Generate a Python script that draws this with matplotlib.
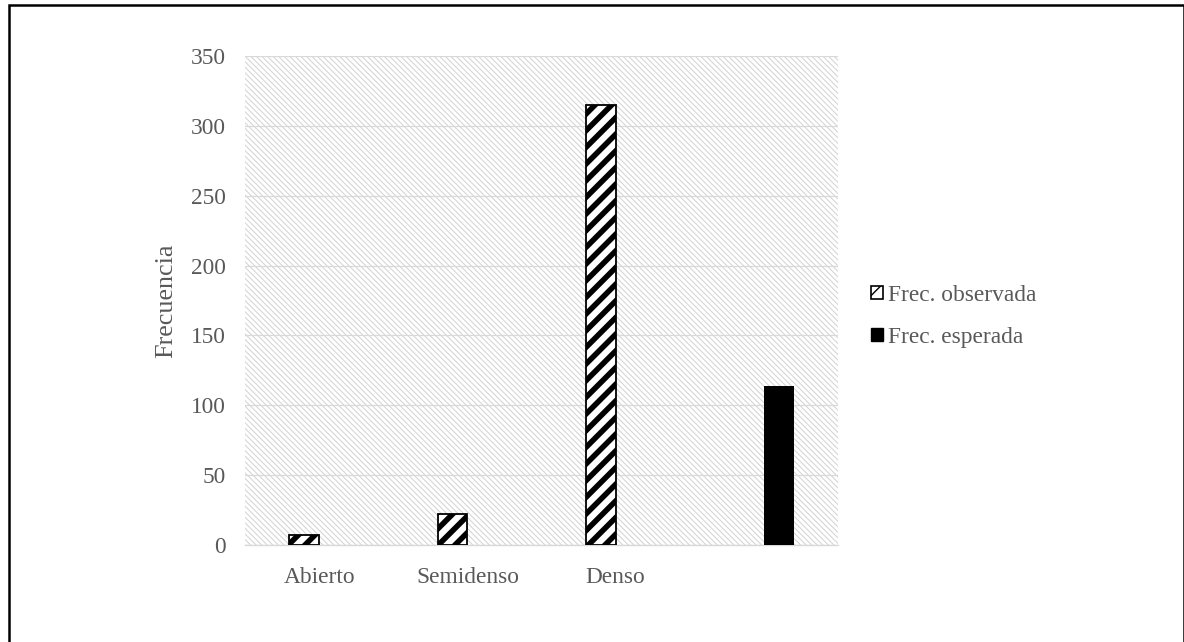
import numpy as np
import matplotlib
matplotlib.use("Agg")
import matplotlib.pyplot as plt
from matplotlib.patches import Rectangle, Patch

# Data
categories = ["Abierto", "Semidenso", "Denso", ""]
observed = [7, 22, 315, 0]
expected = [0, 0, 0, 114]
series_labels = ["Frec. observada", "Frec. esperada"]
y_ticks = [0, 50, 100, 150, 200, 250, 300, 350]

DPI = 100
plt.rcParams["font.family"] = ["Liberation Serif", "DejaVu Serif"]
text_color = "#595959"
grid_color = "#d9d9d9"

fig = plt.figure(figsize=(1184 / DPI, 642 / DPI), dpi=DPI)
ax = fig.add_axes([245 / 1184, 1 - 545 / 642, 593 / 1184, 489 / 642])


def hatch_lw(patch, lw):
    if hasattr(patch, "set_hatch_linewidth"):
        patch.set_hatch_linewidth(lw)


# hatched plot-area background
bg = Rectangle((0, 0), 1, 1, transform=ax.transAxes, facecolor="white",
               edgecolor="#d4d4d4", linewidth=0, hatch="\\" * 6, zorder=0.1)
hatch_lw(bg, 0.75)
ax.add_patch(bg)
ax.patch.set_visible(False)

x = np.arange(len(categories))
width = 0.2
with plt.rc_context({"hatch.linewidth": 4.0}):
    b1 = ax.bar(x - width / 2, observed, width, facecolor="white",
                edgecolor="black", linewidth=1.3, hatch="//", zorder=2,
                label=series_labels[0])
b2 = ax.bar(x + width / 2, expected, width, color="black", zorder=2,
            label=series_labels[1])
for p in b1.patches:
    hatch_lw(p, 4.0)
for bars in (b1, b2):
    for p in bars.patches:
        if p.get_height() == 0:
            p.set_visible(False)

ax.set_xlim(-0.5, len(categories) - 0.5)
ax.set_ylim(0, 350)
ax.set_yticks(y_ticks)
ax.set_xticks(x)
ax.set_xticklabels(categories)
ax.tick_params(axis="both", length=0, labelsize=16.8, labelcolor=text_color)
ax.tick_params(axis="y", pad=13.6)
ax.tick_params(axis="x", pad=16)
ax.grid(axis="y", color=grid_color, linewidth=0.9, zorder=0.5)
ax.set_axisbelow(True)
for s in ["top", "right", "left"]:
    ax.spines[s].set_visible(False)
ax.spines["bottom"].set_color(grid_color)
ax.spines["bottom"].set_linewidth(1.0)
ax.spines["bottom"].set_zorder(0.6)

ax.set_ylabel("Frecuencia", fontsize=18.8, color=text_color)
ax.yaxis.set_label_coords(-0.115, 0.5)

# legend
with plt.rc_context({"hatch.linewidth": 2.0}):
    h1 = Patch(facecolor="white", edgecolor="black", linewidth=1.2, hatch="/")
h2 = Patch(facecolor="black", edgecolor="black")
hatch_lw(h1, 2.0)
leg = fig.legend([h1, h2], series_labels, loc="center left",
                 bbox_to_anchor=(862 / 1184, 1 - 316 / 642), frameon=False,
                 fontsize=16.8, handlelength=0.5, handleheight=0.5,
                 handletextpad=0.2, labelspacing=0.9, borderaxespad=0)
for t in leg.get_texts():
    t.set_color(text_color)

# outer frame
frame = Rectangle((8.5 / 1184, -0.1), (1183.5 - 8.5) / 1184, 1.1 - 5.5 / 642,
                  transform=fig.transFigure, fill=False, edgecolor="black",
                  linewidth=1.8, zorder=10)
fig.patches.append(frame)

fig.savefig("out.png", dpi=DPI)
